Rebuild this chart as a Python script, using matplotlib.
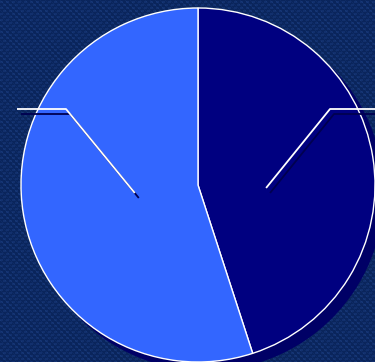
import matplotlib.pyplot as plt
import numpy as np

# two-slice share chart
categories = ['B', 'A']
shares = [45, 55]
slice_colors = ['#000080', '#3366ff']

W, H = 375, 362
cx, cy, R = 198, 177, 177

# where each leader line leaves its slice (angle in degrees, fraction of radius)
leader_anchor = [(-2.5, 0.385), (187.2, 0.36)]

fig = plt.figure(figsize=(W / 100, H / 100), dpi=100)
ax = fig.add_axes([0, 0, 1, 1])

# fine brick-like navy backdrop
yy, xx = np.indices((H, W))
tex = ((((xx + 3 * ((yy // 3) % 2)) % 6) < 3) & (yy % 3 != 0)).astype(float)
tex = tex * 0.5 + (((xx * 7 + yy * 13) % 5) == 0) * 0.3
base = np.array([0x0a, 0x25, 0x5c]) / 255
light = np.array([0x1a, 0x3c, 0x7e]) / 255
bg = base[None, None, :] * (1 - tex[..., None]) + light[None, None, :] * tex[..., None]
ax.imshow(bg, extent=(0, W, 0, H), zorder=0, interpolation='nearest')

# drop shadow under the pie
shadow = plt.Circle((cx + 8, cy - 8), R, color='#000066', zorder=1)
ax.add_patch(shadow)

wedges, _ = ax.pie(shares, colors=slice_colors, startangle=90, counterclock=False,
                   center=(cx, cy), radius=R, frame=True,
                   wedgeprops=dict(edgecolor='white', linewidth=1.0))
for w in wedges:
    w.set_zorder(2)

# leader lines from each slice toward its (off-canvas) label
for ang, frac in leader_anchor:
    a = np.deg2rad(ang)
    sx = cx + frac * R * np.cos(a)
    sy = cy + frac * R * np.sin(a)
    side = 1 if np.cos(a) > 0 else -1
    ex = cx + side * 132
    ey = cy + 76
    tx = ex + side * 49
    xs = [sx, ex, tx]
    ys = [sy, ey, ey]
    ax.plot([x + 4 for x in xs], [y - 5 for y in ys], color='#000050', lw=1.3,
            zorder=3, solid_capstyle='butt')
    ax.plot(xs, ys, color='white', lw=1.3, zorder=4, solid_capstyle='butt')

ax.set_xlim(0, W)
ax.set_ylim(0, H)
ax.set_aspect('equal')
ax.axis('off')

fig.savefig('out.png', dpi=100)
